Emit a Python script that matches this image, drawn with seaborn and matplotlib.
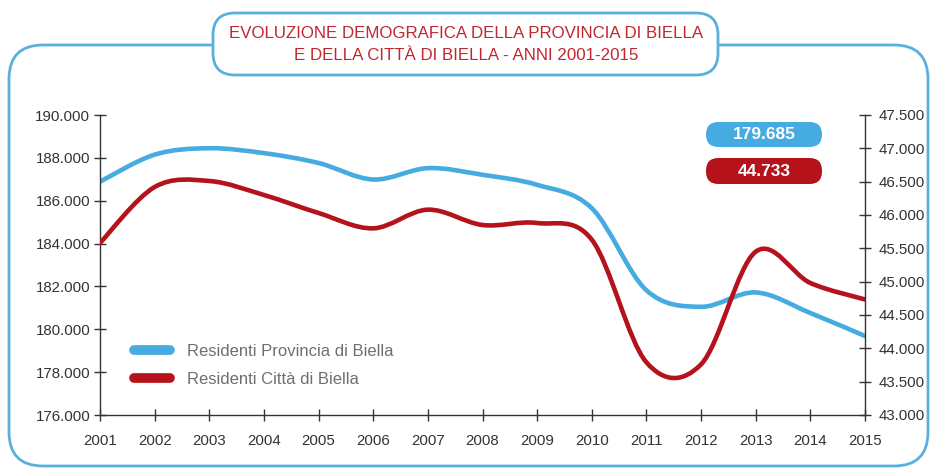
import numpy as np
import matplotlib
matplotlib.use("Agg")
import matplotlib.pyplot as plt
import seaborn as sns
from matplotlib.path import Path
from matplotlib.patches import PathPatch, FancyBboxPatch
from matplotlib.lines import Line2D
from matplotlib.ticker import FuncFormatter, MultipleLocator
from matplotlib.transforms import IdentityTransform

# dati
anni = [2001, 2002, 2003, 2004, 2005, 2006, 2007, 2008,
        2009, 2010, 2011, 2012, 2013, 2014, 2015]
provincia = [186890, 188150, 188450, 188220, 187760, 186990, 187520, 187210,
             186740, 185650, 181820, 181050, 181720, 180760, 179685]
citta = [45580, 46420, 46510, 46300, 46030, 45800, 46080, 45850,
         45880, 45630, 43790, 43760, 45450, 44980, 44733]

etichette = ["Residenti Provincia di Biella", "Residenti Città di Biella"]
titolo = ("EVOLUZIONE DEMOGRAFICA DELLA PROVINCIA DI BIELLA\n"
          "E DELLA CITTÀ DI BIELLA - ANNI 2001-2015")

blu = "#45abe0"
rosso = "#b5121b"
cornice = "#5ab0dc"
grigio = "#333333"

W, H = 933, 470

sns.set_theme(style="ticks")
plt.rcParams["font.family"] = ["Liberation Sans", "DejaVu Sans"]


def punti(v):
    return f"{int(v):,}".replace(",", ".")


def curva(x, y):
    # linea smussata (Catmull-Rom -> Bezier) come nel grafico originale
    x = np.asarray(x, float)
    y = np.asarray(y, float)
    n = len(x)
    verts = [(x[0], y[0])]
    codes = [Path.MOVETO]
    for i in range(n - 1):
        a = max(i - 1, 0)
        b = min(i + 2, n - 1)
        c1 = (x[i] + (x[i + 1] - x[a]) / 6, y[i] + (y[i + 1] - y[a]) / 6)
        c2 = (x[i + 1] - (x[b] - x[i]) / 6, y[i + 1] - (y[b] - y[i]) / 6)
        verts += [c1, c2, (x[i + 1], y[i + 1])]
        codes += [Path.CURVE4] * 3
    return Path(verts, codes)


def box_px(fig, x0, y0, x1, y1, r, **kw):
    # rettangolo arrotondato in pixel (origine in alto a sinistra)
    p = FancyBboxPatch((x0, H - y1), x1 - x0, y1 - y0,
                       boxstyle=f"round,pad=0,rounding_size={r}",
                       transform=IdentityTransform(), **kw)
    fig.add_artist(p)
    return p


fig = plt.figure(figsize=(W / 100, H / 100), dpi=100)
ax = fig.add_axes([100 / W, 1 - 415 / H, 765 / W, 300 / H])
ax2 = ax.twinx()

ax.add_patch(PathPatch(curva(anni, provincia), fill=False, edgecolor=blu,
                       lw=3.3, capstyle="round"))
ax2.add_patch(PathPatch(curva(anni, citta), fill=False, edgecolor=rosso,
                        lw=3.3, capstyle="round"))

ax.set_xlim(anni[0], anni[-1])
ax.set_ylim(176000, 190000)
ax2.set_ylim(43000, 47500)
ax.set_xticks(anni)
ax.yaxis.set_major_locator(MultipleLocator(2000))
ax2.yaxis.set_major_locator(MultipleLocator(500))
fmt = FuncFormatter(lambda v, p: punti(v))
ax.yaxis.set_major_formatter(fmt)
ax2.yaxis.set_major_formatter(fmt)

for a in (ax, ax2):
    a.set_facecolor("none")
    for s in a.spines.values():
        s.set_color(grigio)
        s.set_linewidth(1)
    a.spines["top"].set_visible(False)
ax2.spines["left"].set_visible(False)
ax2.spines["bottom"].set_visible(False)
ax.spines["right"].set_visible(False)

ax.tick_params(axis="y", direction="inout", length=8, width=1, color=grigio,
               labelsize=10.8, labelcolor=grigio, pad=3)
ax.tick_params(axis="x", direction="inout", length=9, width=1, color=grigio,
               labelsize=10.8, labelcolor=grigio, pad=9)
ax2.tick_params(axis="y", direction="inout", length=8, width=1, color=grigio,
                labelsize=10.8, labelcolor=grigio, pad=6)

maniglie = [Line2D([0], [0], color=blu, lw=7, solid_capstyle="round"),
            Line2D([0], [0], color=rosso, lw=7, solid_capstyle="round")]
leg = ax2.legend(maniglie, etichette, loc="center left",
                 bbox_to_anchor=(0.033, 0.165), frameon=False, fontsize=12,
                 handlelength=2.2, handletextpad=1.0, labelspacing=0.75,
                 borderpad=0)
for t in leg.get_texts():
    t.set_color("#6f6f6f")

# cornice esterna e riquadro del titolo
box_px(fig, 9, 45, 928, 466, 34, fill=False, edgecolor=cornice, lw=2)
box_px(fig, 213, 13, 718, 75, 22, facecolor="white", edgecolor=cornice,
       lw=2, zorder=3)
fig.text(466 / W, 1 - 44.5 / H, titolo, ha="center", va="center",
         color="#c1272d", fontsize=12.2, linespacing=1.55, zorder=4)

# etichette con gli ultimi valori
for (y0, y1), col, val in [((122, 147), blu, provincia[-1]),
                           ((158, 184), rosso, citta[-1])]:
    box_px(fig, 706, y0, 822, y1, 12.5, facecolor=col, edgecolor="none",
           zorder=3)
    fig.text(764 / W, 1 - (y0 + y1) / 2 / H, punti(val), ha="center",
             va="center", color="white", fontsize=12.5, fontweight="bold",
             zorder=4)

fig.savefig("out.png", dpi=100)
